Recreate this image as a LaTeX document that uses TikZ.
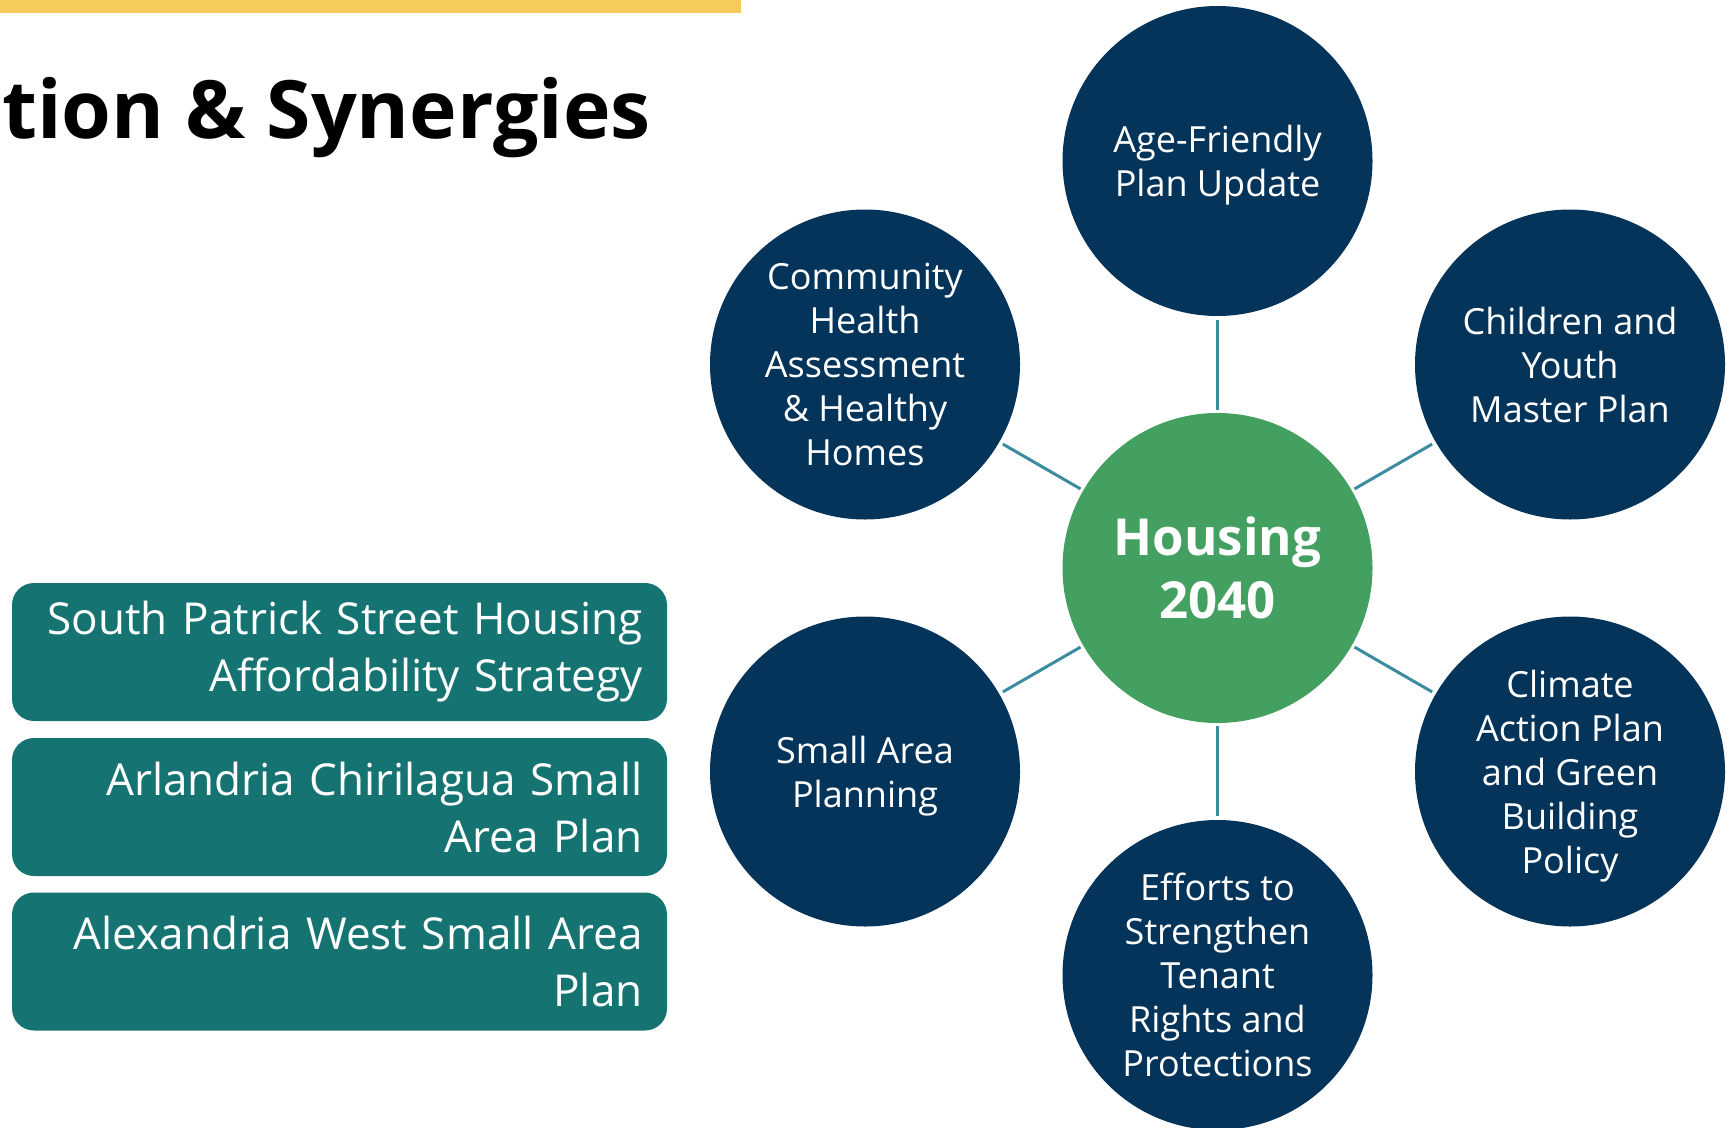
\documentclass[tikz,border=0pt]{standalone}
\usepackage{fontspec}
\setmainfont{Open Sans}
\definecolor{navy}{HTML}{05345A}
\definecolor{hubgreen}{HTML}{43A060}
\definecolor{boxteal}{HTML}{157472}
\definecolor{linkblue}{HTML}{3C8CA0}
\definecolor{baryellow}{HTML}{F5CB5C}
\begin{document}
\begin{tikzpicture}[x=1pt,y=-1pt]
    \tikzstyle{plan}=[circle,fill=navy,text=white,minimum size=310pt,inner sep=0pt,text depth=0pt,align=center,font=\fontsize{36}{44}\selectfont]
    \tikzstyle{hubstyle}=[circle,fill=hubgreen,text=white,minimum size=310pt,inner sep=0pt,align=center,font=\fontsize{51}{63}\selectfont\bfseries]
    \tikzstyle{areabox}=[rectangle,rounded corners=22pt,fill=boxteal,text=white,minimum height=138pt,text width=606pt,inner xsep=24.5pt,align=right,font=\fontsize{44}{57}\selectfont]
    \tikzstyle{link}=[draw=linkblue,line width=3pt,shorten <=3pt,shorten >=4pt]

    \useasboundingbox (0,0) rectangle (1734,1127);
    \fill[baryellow] (0,0) rectangle (741,13);
    \node[anchor=base east,inner sep=0pt,font=\fontsize{80.5}{97}\selectfont\bfseries] (title) at (651,138) {tion \& Synergies};

    \node[areabox] at (339.5,652) (southpatrick) {South Patrick Street Housing\\Affordability Strategy};
    \node[areabox] at (339.5,807) (arlandria) {Arlandria Chirilagua Small\\Area Plan};
    \node[areabox] at (339.5,961.5) (alexwest) {Alexandria West Small Area\\Plan};

    \node[hubstyle] at (1217.5,568) (hub) {Housing\\2040};
    \node[plan] at (1217.5,161) (agefriendly) {Age-Friendly\\Plan Update};
    \node[plan] at (865,364.5) (health) {Community\\Health\\Assessment\\\& Healthy\\Homes};
    \node[plan] at (1570,364.5) (children) {Children and\\Youth\\Master Plan};
    \node[plan] at (865,771.5) (smallarea) {Small Area\\Planning};
    \node[plan] at (1570,771.5) (climate) {Climate\\Action Plan\\and Green\\Building\\Policy};
    \node[plan] at (1217.5,975) (tenant) {Efforts to\\Strengthen\\Tenant\\Rights and\\Protections};

    \draw[link] (hub) -- (agefriendly);
    \draw[link] (hub) -- (health);
    \draw[link] (hub) -- (children);
    \draw[link] (hub) -- (smallarea);
    \draw[link] (hub) -- (climate);
    \draw[link] (hub) -- (tenant);
\end{tikzpicture}
\end{document}
